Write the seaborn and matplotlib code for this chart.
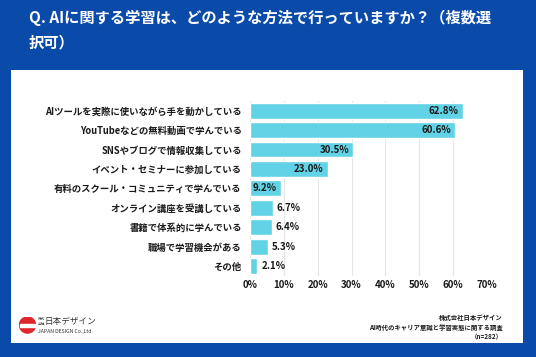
import numpy as np
import pandas as pd
import matplotlib
matplotlib.use("Agg")
import matplotlib.pyplot as plt
import matplotlib.patches as mpatches
import seaborn as sns

categories = ["AIツールを実際に使いながら手を動かしている",
              "YouTubeなどの無料動画で学んでいる",
              "SNSやブログで情報収集している",
              "イベント・セミナーに参加している",
              "有料のスクール・コミュニティで学んでいる",
              "オンライン講座を受講している",
              "書籍で体系的に学んでいる",
              "職場で学習機会がある",
              "その他"]
values = [62.8, 60.6, 30.5, 23.0, 9.2, 6.7, 6.4, 5.3, 2.1]
xticks = [0, 10, 20, 30, 40, 50, 60, 70]

title = "Q. AIに関する学習は、どのような方法で行っていますか？（複数選\n択可）"
source = "株式会社日本デザイン\nAI時代のキャリア意識と学習実態に関する調査\n（n=282）"

BLUE = "#0a4aa8"
BAR = "#62d2e6"
TXT = "#1a1a1a"

sns.set_theme(style="white")
plt.rcParams['font.family'] = ['Noto Sans CJK JP', 'DejaVu Sans']

W, H = 536, 357
fig = plt.figure(figsize=(W / 100, H / 100), dpi=100)
fig.patch.set_facecolor(BLUE)

# white panel (behind everything)
fig.patches.append(mpatches.Rectangle((11 / W, 1 - 343 / H), (523 - 11) / W, (343 - 70) / H,
                                      transform=fig.transFigure, facecolor="white",
                                      edgecolor="none", zorder=-10))

fig.text(29 / W, 1 - 30 / H, title, color="white", fontsize=11, fontweight="bold",
         ha="left", va="center", linespacing=1.6)

df = pd.DataFrame({"item": categories, "pct": values})

ax = fig.add_axes([250 / W, 1 - 275.7 / H, (487 - 250) / W, 174.7 / H])
ax.set_facecolor("none")
sns.barplot(data=df, x="pct", y="item", orient="h", color=BAR, saturation=1,
            width=0.82, ax=ax, zorder=2)

ax.set_xlim(0, 70)
ax.set_ylim(8.5, -0.5)
ax.set_xticks(xticks)
ax.set_xticklabels([f"{t}%" for t in xticks], fontsize=7, fontweight="bold", color=TXT)
ax.tick_params(axis="x", length=0, pad=3)
ax.tick_params(axis="y", length=0, pad=6, labelsize=6.75, labelcolor=TXT)
for lab in ax.get_yticklabels():
    lab.set_fontweight("bold")
ax.set_xlabel("")
ax.set_ylabel("")
ax.xaxis.grid(True, color="#e6e6e6", linewidth=0.8, zorder=0)
ax.set_axisbelow(True)
for s in ax.spines.values():
    s.set_visible(False)

for i, v in enumerate(values):
    if v >= 9:
        ax.annotate(f"{v:.1f}%", (v, i), xytext=(-3, 0), textcoords="offset points",
                    ha="right", va="center", fontsize=7, fontweight="bold", color=TXT, zorder=3)
    else:
        ax.annotate(f"{v:.1f}%", (v, i), xytext=(3, 0), textcoords="offset points",
                    ha="left", va="center", fontsize=7, fontweight="bold", color=TXT, zorder=3)

# footer source
fig.text(503 / W, 1 - 327 / H, source, color=TXT, fontsize=4.6, fontweight="bold",
         ha="right", va="center", multialignment="right", linespacing=1.45)

# logo
lax = fig.add_axes([19 / W, 1 - 333.5 / H, 17 / W, 17 / H])
lax.set_xlim(-1, 1)
lax.set_ylim(-1, 1)
lax.set_aspect("equal")
lax.axis("off")
lax.add_patch(mpatches.Circle((0, 0), 0.95, color="#e0262d"))
lax.add_patch(mpatches.Rectangle((-0.9, -0.25), 1.8, 0.32, color="white"))
fig.text(38 / W, 1 - 321.5 / H, "株式\n会社", color="#333333", fontsize=2.6,
         ha="left", va="center", linespacing=1.0)
fig.text(45 / W, 1 - 321.5 / H, "日本デザイン", color="#333333", fontsize=6.2,
         ha="left", va="center")
fig.text(38 / W, 1 - 331.5 / H, "JAPAN DESIGN Co.,Ltd.", color="#333333", fontsize=3.7,
         ha="left", va="center")

fig.savefig("out.png", dpi=100, facecolor=fig.get_facecolor())
